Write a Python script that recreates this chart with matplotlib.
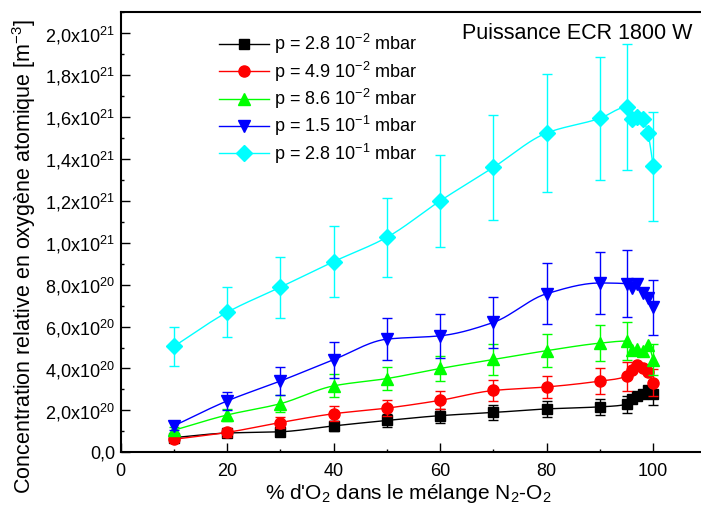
import numpy as np
import matplotlib
matplotlib.use("Agg")
import matplotlib.pyplot as plt
from matplotlib.ticker import MultipleLocator, FuncFormatter

plt.rcParams['font.family'] = ['Liberation Sans', 'DejaVu Sans']
plt.rcParams['mathtext.default'] = 'regular'

# % O2 in the N2-O2 mixture
x = [10, 20, 30, 40, 50, 60, 70, 80, 90, 95, 96, 97, 98, 99, 100]

# concentrations, in units of 1e20 m^-3 (nan = no error bar drawn)
nan = np.nan
black = [0.70, 0.92, 0.98, 1.26, 1.52, 1.75, 1.90, 2.07, 2.17, 2.29, 2.56, 2.69, 2.80, 2.96, 2.80]
black_err = [0.15, 0.17, 0.2, 0.25, 0.3, 0.33, 0.35, 0.37, 0.37, 0.4, nan, nan, nan, nan, 0.55]
red = [0.62, 0.95, 1.42, 1.84, 2.11, 2.48, 2.95, 3.12, 3.40, 3.63, 3.95, 4.15, 4.04, 3.83, 3.33]
red_err = [0.15, 0.2, 0.27, 0.35, 0.4, 0.43, 0.51, 0.54, 0.6, 0.7, nan, nan, nan, nan, 0.63]
green = [1.05, 1.78, 2.32, 3.17, 3.52, 4.0, 4.43, 4.85, 5.21, 5.31, 4.9, 4.93, 4.84, 5.14, 4.42]
green_err = [0.15, 0.3, 0.4, 0.55, 0.55, 0.6, 0.73, 0.8, 0.87, 0.9, nan, nan, nan, nan, 0.75]
blue = [1.26, 2.45, 3.40, 4.42, 5.40, 5.56, 6.2, 7.57, 8.08, 8.05, 7.83, 8.02, 7.6, 7.35, 6.92]
blue_err = [0.2, 0.45, 0.65, 0.85, 1.0, 1.05, 1.2, 1.45, 1.5, 1.6, nan, nan, nan, nan, 1.3]
cyan = [5.05, 6.68, 7.88, 9.1, 10.26, 12.0, 13.6, 15.24, 15.94, 16.47, 15.9, 16.0, 15.9, 15.23, 13.65]
cyan_err = [0.95, 1.2, 1.45, 1.69, 1.89, 2.2, 2.5, 2.8, 2.93, 3.02, nan, nan, nan, nan, 2.6]

labels = ['p = 2.8 10$^{-2}$ mbar', 'p = 4.9 10$^{-2}$ mbar', 'p = 8.6 10$^{-2}$ mbar',
          'p = 1.5 10$^{-1}$ mbar', 'p = 2.8 10$^{-1}$ mbar']


def slopes(xs, ys):
    # pchip-like slopes so the curve does not overshoot the points
    h = np.diff(xs)
    d = np.diff(ys) / h
    m = np.zeros_like(ys)
    for k in range(1, len(xs) - 1):
        if d[k-1] * d[k] <= 0:
            m[k] = 0
        else:
            w1 = 2*h[k] + h[k-1]
            w2 = h[k] + 2*h[k-1]
            m[k] = (w1 + w2) / (w1/d[k-1] + w2/d[k])
    m[0] = d[0]
    m[-1] = d[-1]
    return m


def smooth(xs, ys, n=25):
    xs = np.asarray(xs, float)
    ys = np.asarray(ys, float)
    m = slopes(xs, ys)
    xx, yy = [], []
    for i in range(len(xs) - 1):
        h = xs[i+1] - xs[i]
        t = np.linspace(0, 1, n, endpoint=False)
        h00 = 2*t**3 - 3*t**2 + 1
        h10 = t**3 - 2*t**2 + t
        h01 = -2*t**3 + 3*t**2
        h11 = t**3 - t**2
        xx.extend(xs[i] + t*h)
        yy.extend(h00*ys[i] + h10*h*m[i] + h01*ys[i+1] + h11*h*m[i+1])
    xx.append(xs[-1])
    yy.append(ys[-1])
    return np.array(xx), np.array(yy)


fig = plt.figure(figsize=(7.01, 5.21), dpi=100)
ax = fig.add_axes([120.5/701, 68.7/521, 586/701, 440/521])

series = [
    (black, black_err, 'black', 's', 7),
    (red, red_err, 'red', 'o', 8),
    (green, green_err, '#00ff00', '^', 9),
    (blue, blue_err, '#0000ff', 'v', 9),
    (cyan, cyan_err, '#00ffff', 'D', 8),
]

xa = np.array(x, float)
for (vals, errs, col, mk, ms), lab in zip(series, labels):
    v = np.array(vals) * 1e20
    e = np.array(errs) * 1e20
    ok = ~np.isnan(e)
    ax.errorbar(xa[ok], v[ok], yerr=e[ok], fmt='none', ecolor=col, elinewidth=1,
                capsize=3.5, capthick=1)
    sx, sy = smooth(xa, v)
    ax.plot(sx, sy, color=col, lw=1)
    ax.plot(xa, v, ls='none', marker=mk, ms=ms, color=col, mec=col)
    ax.plot([], [], color=col, lw=1, marker=mk, ms=ms, label=lab)

ax.set_xlim(0, 110)
ax.set_ylim(0, 2.1e21)
ax.xaxis.set_major_locator(MultipleLocator(20))
ax.xaxis.set_minor_locator(MultipleLocator(10))
ax.yaxis.set_major_locator(MultipleLocator(2e20))
ax.yaxis.set_minor_locator(MultipleLocator(1e20))


def fmt(v, pos):
    if v < -1:
        return ''
    if abs(v) < 1:
        return '0,0'
    ex = int(np.floor(np.log10(v) + 1e-9))
    mant = v / 10**ex
    return ('%.1f' % mant).replace('.', ',') + 'x10$^{%d}$' % ex


ax.yaxis.set_major_formatter(FuncFormatter(fmt))
ax.tick_params(which='both', direction='in', top=False, right=False, labelsize=13, width=1)
ax.tick_params(which='major', length=6.5)
ax.tick_params(which='minor', length=2.5)
ax.tick_params(axis='x', pad=8)
ax.tick_params(axis='y', pad=4)
for s in ax.spines.values():
    s.set_linewidth(1.5)

ax.set_xlabel("% d'O$_2$ dans le mélange N$_2$-O$_2$", fontsize=15)
ax.set_ylabel('Concentration relative en oxygène atomique [m$^{-3}$]', fontsize=15.5)
ax.xaxis.set_label_coords((408-120.5)/586, -(482-452.3)/440)
ax.yaxis.set_label_coords(-(120.5-38)/586, (452.3-256.5)/440)

ax.text((692-120.5)/586, (452.3-34)/440, 'Puissance ECR 1800 W', transform=ax.transAxes,
        fontsize=15.5, ha='right', va='center')

ax.legend(loc='upper left', bbox_to_anchor=(98/586, (452-32)/440), frameon=False,
          fontsize=13, handlelength=2.8, labelspacing=0.18, handletextpad=0.3,
          borderaxespad=0, borderpad=0)

fig.savefig('out.png', dpi=100)
